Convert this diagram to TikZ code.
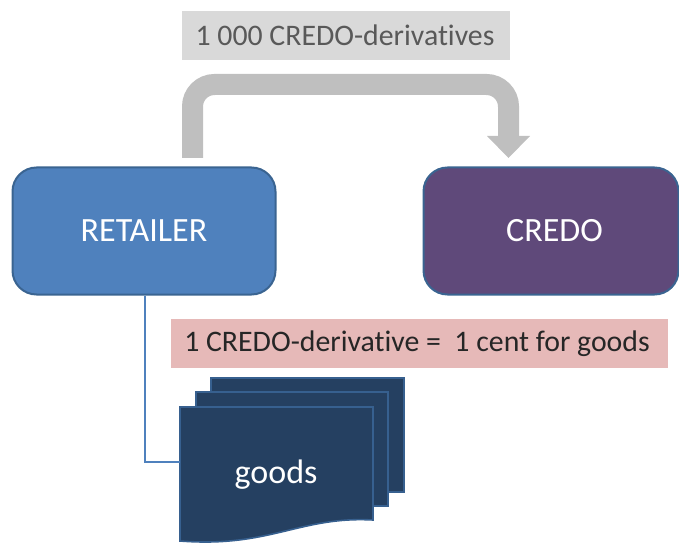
\documentclass[tikz,border=0pt]{standalone}
\usepackage{fontspec}
\setmainfont[Ligatures=NoCommon]{Carlito}
\definecolor{blueF}{HTML}{4F81BD}
\definecolor{blueE}{HTML}{3A6491}
\definecolor{purpF}{HTML}{5F497A}
\definecolor{docF}{HTML}{254061}
\definecolor{docE}{HTML}{37608F}
\definecolor{arrowG}{HTML}{BFBFBF}
\definecolor{greyband}{HTML}{D9D9D9}
\definecolor{greytext}{HTML}{595959}
\definecolor{pinkband}{HTML}{E6B9B8}
\definecolor{darktext}{HTML}{262626}
\tikzset{
  bigbox/.style={draw=blueE,line width=2pt,rounded corners=24pt,minimum height=127pt,text=white,font=\fontsize{34}{40}\selectfont},
  band/.style={font=\fontsize{29.8}{36}\selectfont,minimum height=49pt,inner sep=0pt},
  docsheet/.style={fill=docF,draw=docE,line width=1.6pt},
}
\begin{document}
\begin{tikzpicture}[x=1pt,y=-1pt]
\useasboundingbox (0,0) rectangle (679,545);
\node[bigbox,fill=blueF,minimum width=263pt] (retailer) at (144,231) {RETAILER};
\node[bigbox,fill=purpF,minimum width=255pt] (credo) at (551,231) {\hspace*{7pt}CREDO};
\node[band,fill=greyband,text=greytext,minimum width=328pt] (count) at (346,35.5) {1 000 CREDO-derivatives\hspace*{2pt}};
\node[band,fill=pinkband,text=darktext,minimum width=497pt] (rate) at (419.5,343.5) {1 CREDO-derivative =\ \ 1 cent for goods\hspace*{5pt}};
% bent arrow
\coordinate (arrowstart) at (192.5,158);
\coordinate (arrowneck) at (508.5,137);
\coordinate (arrowtip) at (508.5,158);
\draw[arrowG,line width=21pt,rounded corners=22pt] (arrowstart) -- (192.5,84.5) -- (508.5,84.5) -- (arrowneck);
\fill[arrowG] (487,136) -- (530,136) -- (arrowtip) -- cycle;
% sheets
\draw[docsheet] (211,378) rectangle (404,492);
\draw[docsheet] (196,392) rectangle (388,506);
\draw[docsheet] (180,407) -- (373,407) -- (373,520) .. controls (300,516) and (270,548) .. (180,541) -- cycle;
\node[text=white,font=\fontsize{34}{40}\selectfont] (goods) at (276,475) {goods};
\coordinate (elbow) at (145,462);
\coordinate (sheetedge) at (180,462);
\draw[blueF,line width=2.4pt] (retailer.south -| elbow) -- (elbow) -- (sheetedge);
\end{tikzpicture}
\end{document}
